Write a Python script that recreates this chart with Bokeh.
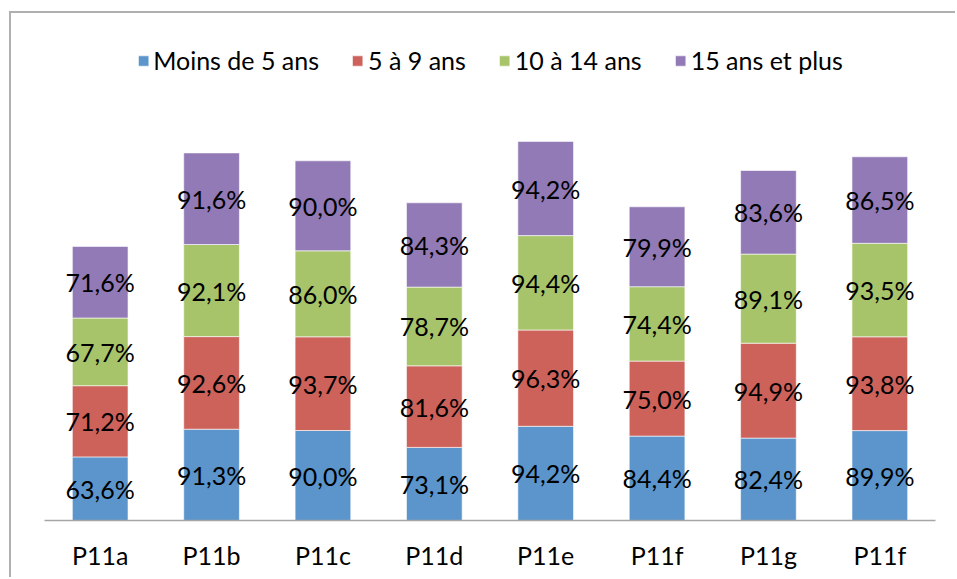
import numpy as np
from bokeh.plotting import figure
from bokeh.models import ColumnDataSource, Range1d, FixedTicker, Legend, LegendItem
from bokeh.core.properties import value
from bokeh.embed import file_html
from bokeh.resources import INLINE

categories = ["P11a", "P11b", "P11c", "P11d", "P11e", "P11f", "P11g", "P11f"]
series_names = ["Moins de 5 ans", "5 à 9 ans", "10 à 14 ans", "15 ans et plus"]
moins5 = [63.6, 91.3, 90.0, 73.1, 94.2, 84.4, 82.4, 89.9]
de5a9 = [71.2, 92.6, 93.7, 81.6, 96.3, 75.0, 94.9, 93.8]
de10a14 = [67.7, 92.1, 86.0, 78.7, 94.4, 74.4, 89.1, 93.5]
plus15 = [71.6, 91.6, 90.0, 84.3, 94.2, 79.9, 83.6, 86.5]
colors = ["#5b95cc", "#cd625b", "#a8c46a", "#917ab5"]

FONT = "Lato"
series = [moins5, de5a9, de10a14, plus15]
x = np.arange(len(categories))

p = figure(width=946, height=566, output_backend="svg", toolbar_location=None,
           x_range=Range1d(-0.5, len(categories) - 0.5), y_range=Range1d(0, 500),
           min_border_left=33, min_border_right=22, min_border_top=7, min_border_bottom=59)
p.styles = {"margin-left": "9px", "margin-top": "11px",
            "border-left": "2px solid #b0b0b0", "border-top": "2px solid #b0b0b0"}
p.outline_line_color = None
p.xgrid.visible = False
p.ygrid.visible = False
p.yaxis.visible = False

items = []
bottom = np.zeros(len(categories))
for name, vals, col in zip(series_names, series, colors):
    vals = np.array(vals)
    top = bottom + vals
    src = ColumnDataSource(dict(x=x, bottom=bottom, top=top, mid=(bottom + top) / 2,
                                lab=[f"{v:.1f}%".replace(".", ",") for v in vals]))
    r = p.vbar(x="x", bottom="bottom", top="top", width=0.5, source=src,
               fill_color=col, line_color="white", line_width=0.6)
    p.text(x="x", y="mid", text="lab", source=src, text_align="center",
           text_baseline="middle", text_font=value(FONT), text_font_size="25px",
           text_color="black")
    items.append(LegendItem(label=name, renderers=[r]))
    bottom = top

legend = Legend(items=items, orientation="horizontal", location="top_center",
                label_text_font=FONT, label_text_font_size="25px", label_text_color="black",
                glyph_width=13, glyph_height=13, label_standoff=4, spacing=32,
                label_height=22, padding=4, margin=25, border_line_color=None,
                background_fill_alpha=0)
p.add_layout(legend, "center")

p.xaxis.ticker = FixedTicker(ticks=list(x))
p.xaxis.major_label_overrides = {int(i): c for i, c in zip(x, categories)}
p.xaxis.major_tick_line_color = None
p.xaxis.minor_tick_line_color = None
p.xaxis.axis_line_color = "#a6a6a6"
p.xaxis.axis_line_width = 1.5
p.xaxis.major_label_text_font = FONT
p.xaxis.major_label_text_font_size = "25px"
p.xaxis.major_label_text_color = "black"
p.xaxis.major_label_standoff = 13

open("out.html", "w").write(file_html(p, INLINE))
